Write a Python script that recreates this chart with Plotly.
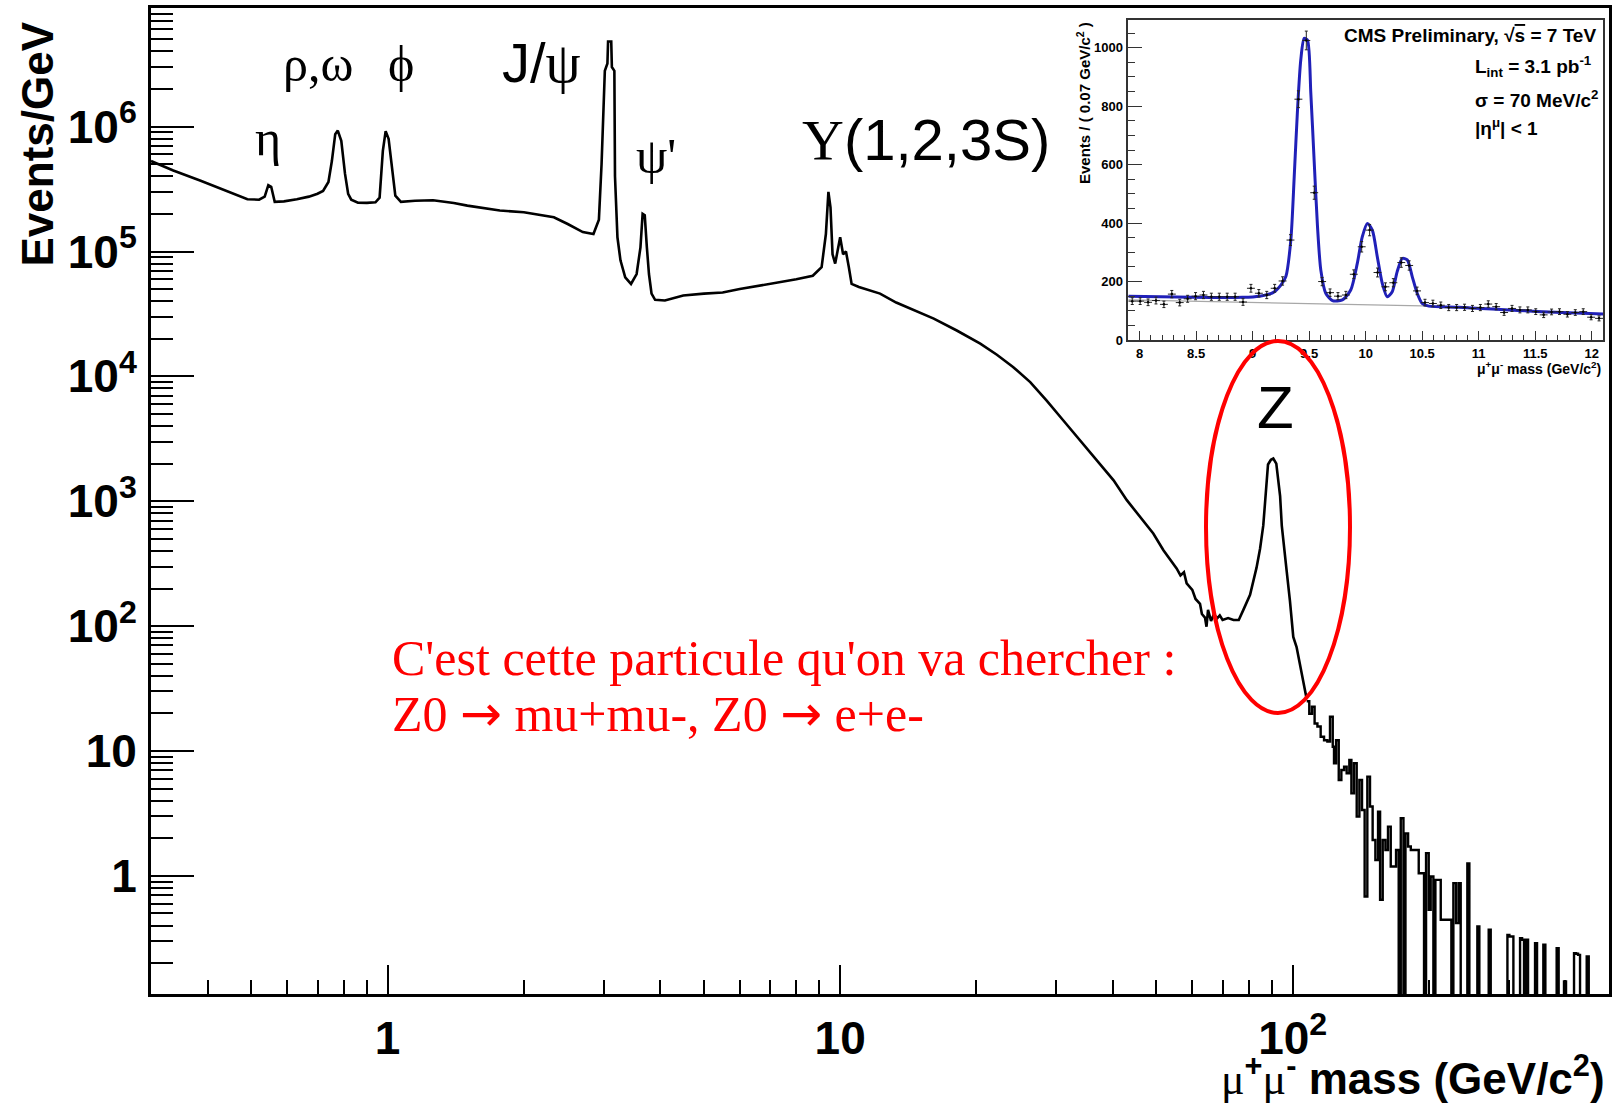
import math
import plotly.graph_objects as go

W, H = 1620, 1106

# ---------------- main dimuon spectrum (Events/GeV) ----------------
smooth_mass = [0.30, 0.336, 0.385, 0.42, 0.456, 0.49, 0.52, 0.535, 0.545, 0.553, 0.563, 0.59, 0.63,
               0.67, 0.70, 0.72, 0.74, 0.753, 0.766, 0.776, 0.79, 0.805, 0.818, 0.831, 0.86, 0.90,
               0.94, 0.96, 0.976, 0.99, 1.005, 1.02, 1.04, 1.07, 1.15, 1.26, 1.40, 1.50, 1.65, 1.77,
               2.0, 2.33, 2.5, 2.7, 2.85, 2.93, 2.97, 2.99, 3.02, 3.06, 3.07, 3.12, 3.13, 3.17, 3.18,
               3.22, 3.27, 3.35, 3.45, 3.55, 3.62, 3.66, 3.70, 3.74, 3.78, 3.83, 3.9, 4.1, 4.5, 5.0,
               5.5, 6.0, 7.0, 8.0, 8.7, 9.1, 9.3, 9.42, 9.52, 9.62, 9.75, 9.9, 10.0, 10.15, 10.3,
               10.45, 10.6, 11.0, 12.25, 13.3, 14.5, 16.1, 18.1, 20.4, 22.2, 24.1, 26.3, 28.6, 31.1,
               33.9, 36.9, 40.2, 43.0, 46.0, 49.2, 51.8, 55.4, 56.5, 57.5, 58.3, 60.0, 61.0, 62.4,
               63.0, 64.0, 64.5, 65.0, 66.0, 67.0, 68.0, 69.0, 70.0, 72.0, 74.0, 76.0, 77.8, 80.5,
               83.2, 84.7, 86.1, 86.8, 87.6, 88.2, 89.5, 90.6, 92.0, 93.8, 94.6, 96.2, 97.0, 98.6,
               100.3, 102.0, 104.7, 105.9, 107.4]
smooth_events = [5.3e5, 4.45e5, 3.7e5, 3.27e5, 2.9e5, 2.62e5, 2.6e5, 2.75e5, 3.4e5, 3.3e5, 2.5e5,
                 2.52e5, 2.62e5, 2.75e5, 2.9e5, 3.05e5, 3.6e5, 5.3e5, 8.7e5, 9.3e5, 7.7e5, 4.2e5,
                 2.9e5, 2.6e5, 2.46e5, 2.45e5, 2.48e5, 2.7e5, 6.4e5, 9.2e5, 8.0e5, 5.0e5, 2.8e5,
                 2.5e5, 2.55e5, 2.57e5, 2.45e5, 2.33e5, 2.22e5, 2.13e5, 2.06e5, 1.88e5, 1.66e5,
                 1.43e5, 1.38e5, 1.8e5, 5.0e5, 1.2e6, 2.8e6, 3.2e6, 4.8e6, 4.8e6, 3.0e6, 2.8e6,
                 4.0e5, 1.3e5, 8.5e4, 6.2e4, 5.5e4, 6.6e4, 1.08e5, 2.0e5, 1.95e5, 1.08e5, 6.6e4,
                 4.6e4, 4.1e4, 4.05e4, 4.45e4, 4.6e4, 4.7e4, 5.0e4, 5.5e4, 6.0e4, 6.4e4, 7.5e4,
                 1.38e5, 3.0e5, 2.26e5, 9.5e4, 8.0e4, 1.08e5, 1.3e5, 9.5e4, 1.0e5, 7.5e4, 5.5e4,
                 5.2e4, 4.6e4, 3.9e4, 3.4e4, 2.9e4, 2.33e4, 1.83e4, 1.49e4, 1.19e4, 9.0e3, 6.4e3,
                 4.45e3, 3.07e3, 2.13e3, 1.47e3, 1.02e3, 748, 552, 405, 290, 255, 270, 220, 195,
                 165, 151, 125, 117, 99, 135, 110, 125, 115, 122, 112, 116, 112, 112, 135, 178,
                 294, 417, 640, 970, 1500, 1970, 2150, 2200, 2000, 1100, 638, 337, 274, 160, 82,
                 68, 42, 33, 26]

# high-mass tail: bin low edges and contents (0 = empty bin)
tail_mass = [107.4, 108.8, 110.3, 111.8, 113.4, 115.3, 117.3, 119.3, 120.9, 122.6, 123.4, 124.7,
             126.4, 128.1, 129.9, 131.6, 133.4, 134.8, 136.6, 138.5, 140.4, 142.3, 144.2, 146.2,
             148.2, 150.2, 152.3, 154.4, 156.0, 158.1, 160.3, 162.4, 164.7, 166.9, 169.2, 171.5,
             173.3, 175.7, 177.5, 179.9, 182.4, 184.8, 187.3, 189.9, 192.5, 195.1, 197.1, 199.8,
             201.8, 204.6, 206.7, 209.5, 212.4, 215.3, 218.2, 221.2, 224.2, 226.5, 229.6, 232.7,
             235.1, 243.2, 245.7, 255.9, 258.5, 271.1, 273.9, 298.2, 301.2, 304.3, 307.4, 318.0,
             321.3, 324.5, 327.8, 331.2, 343.2, 346.7, 358.0, 361.7, 383.1, 387.0, 397.7, 401.8,
             418.5, 422.8, 427.2, 431.5, 446.4, 451.0, 500.0]
tail_events = [25, 19.9, 22.6, 16.6, 15.7, 13.0, 12.2, 11.9, 18.8, 10.8, 7.97, 12.2,
               5.86, 7.05, 7.49, 6.63, 8.47, 4.58, 7.97, 2.98, 5.86, 3.37, 0.683, 6.23,
               3.59, 1.94, 1.34, 3.27, 0.643, 1.94, 1.61, 2.48, 1.19, 1.19, 1.61, 0,
               2.89, 0, 2.19, 1.72, 1.61, 1.61, 1.61, 1.05, 1.05, 0, 1.52, 0.535,
               0.988, 0, 0.929, 0.929, 0.445, 0.445, 0.445, 0.445, 0, 0.874, 0.418, 0.874,
               0, 1.26, 0, 0.393, 0, 0.370, 0, 0.337, 0.327, 0.327, 0, 0.317,
               0.308, 0, 0.308, 0, 0.289, 0, 0.281, 0, 0.264, 0, 0.143, 0,
               0.240, 0.238, 0.233, 0, 0.226, 0, 0]

# ---------------- inset: Upsilon region ----------------
inset_mass = [7.935, 8.005, 8.075, 8.145, 8.215, 8.285, 8.355, 8.425, 8.495, 8.565, 8.635, 8.705,
              8.775, 8.845, 8.915, 8.985, 9.055, 9.125, 9.195, 9.265, 9.335, 9.405, 9.475, 9.545,
              9.615, 9.685, 9.755, 9.825, 9.895, 9.965, 10.035, 10.105, 10.175, 10.245, 10.315,
              10.385, 10.455, 10.525, 10.595, 10.665, 10.735, 10.805, 10.875, 10.945, 11.015,
              11.085, 11.155, 11.225, 11.295, 11.365, 11.435, 11.505, 11.575, 11.645, 11.715,
              11.785, 11.855, 11.925, 11.995, 12.065]
inset_events = [133, 133, 129, 135, 122, 157, 128, 141, 150, 154, 148, 148, 148, 148, 130, 177,
                160, 154, 177, 202, 342, 824, 1025, 504, 200, 162, 150, 154, 225, 319, 376, 231,
                182, 196, 265, 255, 168, 128, 125, 119, 111, 111, 112, 108, 111, 123, 114, 94,
                108, 103, 103, 97, 86, 96, 97, 88, 94, 97, 78, 74]
fit_mass = [7.9, 8.47, 8.91, 9.06, 9.18, 9.25, 9.294, 9.338, 9.368, 9.397, 9.426, 9.456, 9.485,
            9.515, 9.544, 9.574, 9.603, 9.647, 9.706, 9.794, 9.868, 9.926, 9.97, 10.015, 10.059,
            10.103, 10.147, 10.191, 10.235, 10.279, 10.324, 10.368, 10.412, 10.456, 10.5, 10.559,
            10.824, 11.118, 11.559, 12.1]
fit_events = [150, 146, 146, 150, 162, 188, 217, 342, 559, 787, 958, 1032, 1026, 844, 616, 388,
              240, 160, 135, 137, 171, 262, 353, 399, 376, 285, 194, 148, 165, 234, 279, 274,
              217, 160, 125, 116, 112, 106, 97, 89]
bkg_mass = [7.9, 9.647, 10.5, 12.1]
bkg_events = [137, 125, 117, 89]

# tick labels
main_x_ticks = [1, 10, 100]
main_x_labels = ["1", "10", "10<sup>2</sup>"]
main_y_ticks = [1, 10, 100, 1e3, 1e4, 1e5, 1e6]
main_y_labels = ["1", "10", "10<sup>2</sup>", "10<sup>3</sup>", "10<sup>4</sup>",
                 "10<sup>5</sup>", "10<sup>6</sup>"]
x_minor = [k * 10 ** e for e in (-1, 0, 1, 2) for k in range(2, 10) if 0.3 < k * 10 ** e < 500]
y_minor = [k * 10 ** e for e in range(-1, 7) for k in range(2, 10) if k * 10 ** e < 8.5e6]


def px(x):
    return x / W


def py(y):
    return 1 - y / H


EMPTY = 1e-3  # empty bins drawn down to below the axis floor

fig = go.Figure()
fig.add_trace(go.Scatter(x=smooth_mass, y=smooth_events, mode="lines",
                         line=dict(color="black", width=2.6), xaxis="x", yaxis="y",
                         showlegend=False, hoverinfo="skip"))
fig.add_trace(go.Scatter(x=tail_mass, y=[v if v > 0 else EMPTY for v in tail_events],
                         mode="lines", line=dict(color="black", width=2.4, shape="hv"),
                         xaxis="x", yaxis="y", showlegend=False, hoverinfo="skip"))

fig.add_trace(go.Scatter(x=bkg_mass, y=bkg_events, mode="lines",
                         line=dict(color="#a8a8a8", width=1.2), xaxis="x2", yaxis="y2",
                         showlegend=False, hoverinfo="skip"))
fig.add_trace(go.Scatter(x=fit_mass, y=fit_events, mode="lines",
                         line=dict(color="#2020b8", width=3, shape="spline", smoothing=0.7),
                         xaxis="x2", yaxis="y2", showlegend=False, hoverinfo="skip"))
fig.add_trace(go.Scatter(x=inset_mass, y=inset_events, mode="markers",
                         marker=dict(color="black", size=2.5),
                         error_x=dict(type="constant", value=0.035, color="#222", thickness=1, width=0),
                         error_y=dict(type="sqrt", color="#222", thickness=1, width=1.5),
                         xaxis="x2", yaxis="y2", showlegend=False, hoverinfo="skip"))

main_font = dict(family="Liberation Sans", size=46, color="black", weight="bold")
inset_font = dict(family="Liberation Sans", size=13, color="black", weight="bold")

fig.update_layout(
    width=W, height=H, margin=dict(l=0, r=0, t=0, b=0),
    paper_bgcolor="white", plot_bgcolor="white",
    xaxis=dict(type="log", range=[math.log10(0.3), math.log10(500)],
               domain=[px(151), px(1609)], anchor="y",
               showline=True, linecolor="black", linewidth=3, mirror=True,
               ticks="inside", ticklen=29, tickwidth=2, tickcolor="black",
               tickmode="array", tickvals=main_x_ticks, ticktext=main_x_labels,
               tickfont=main_font, ticklabelstandoff=2,
               minor=dict(tickmode="array", tickvals=x_minor, ticks="inside",
                          ticklen=14, tickwidth=2, tickcolor="black"),
               showgrid=False, zeroline=False, automargin=False),
    yaxis=dict(type="log", range=[-0.946, 6.95],
               domain=[py(994), py(8)], anchor="x",
               showline=True, linecolor="black", linewidth=3, mirror=True,
               ticks="inside", ticklen=43, tickwidth=2, tickcolor="black",
               tickmode="array", tickvals=main_y_ticks, ticktext=main_y_labels,
               tickfont=main_font, ticklabelstandoff=2,
               minor=dict(tickmode="array", tickvals=y_minor, ticks="inside",
                          ticklen=22, tickwidth=2, tickcolor="black"),
               showgrid=False, zeroline=False, automargin=False),
    xaxis2=dict(range=[7.9, 12.1], domain=[px(1128.3), px(1603)], anchor="y2",
                showline=True, linecolor="#333", linewidth=1.5, mirror=True,
                ticks="inside", ticklen=9, tickwidth=1, tickcolor="#333",
                tick0=8, dtick=0.5, tickfont=inset_font, ticklabelstandoff=1,
                minor=dict(tick0=8, dtick=0.1, ticks="inside", ticklen=5, tickwidth=1,
                           tickcolor="#333"),
                showgrid=False, zeroline=False, automargin=False),
    yaxis2=dict(range=[0, 1095], domain=[py(340), py(20)], anchor="x2",
                showline=True, linecolor="#333", linewidth=1.5, mirror=True,
                ticks="inside", ticklen=14, tickwidth=1, tickcolor="#333",
                tick0=0, dtick=200, tickfont=inset_font, ticklabelstandoff=1,
                minor=dict(tick0=0, dtick=50, ticks="inside", ticklen=7, tickwidth=1,
                           tickcolor="#333"),
                showgrid=False, zeroline=False, automargin=False),
)

SERIF = "Liberation Serif"
SANS = "Liberation Sans"


def ann(text, x, y, size, family=SANS, color="black", xanchor="center", yanchor="middle",
        angle=0, bold=False):
    fig.add_annotation(text=text, x=px(x), y=py(y), xref="paper", yref="paper",
                       xanchor=xanchor, yanchor=yanchor, showarrow=False, textangle=angle,
                       font=dict(family=family, size=size, color=color,
                                 weight="bold" if bold else "normal"))


# axis titles
ann("Events/GeV", 37, 20, 44, bold=True, angle=-90, yanchor="top")
ann('<span style="font-family:Liberation Serif;font-weight:normal">μ</span><sup>+</sup>'
    '<span style="font-family:Liberation Serif;font-weight:normal">μ</span><sup>-</sup> mass (GeV/c<sup>2</sup>)',
    1607, 1106, 44, bold=True, xanchor="right", yanchor="bottom")

# resonance labels
ann("η", 268, 138, 50, family=SERIF)
ann("ρ,ω", 318, 64, 50, family=SERIF)
ann("ϕ", 401, 64, 50, family=SERIF)
ann('J/<span style="font-family:Liberation Serif">ψ</span>', 541, 63, 56)
ann("ψ'", 656, 156, 50, family=SERIF)
ann('<span style="font-family:Liberation Serif">Υ</span>(1,2,3S)', 926, 140, 58)
ann("Z", 1275, 407, 60)

# French annotation
ARROW = '<span style="font-family:DejaVu Sans">→</span>'
ann("C'est cette particule qu'on va chercher :", 390, 658, 50, family=SERIF, color="#ff0000",
    xanchor="left")
ann("Z0 " + ARROW + " mu+mu-, Z0 " + ARROW + " e+e-", 390, 714, 50, family=SERIF,
    color="#ff0000", xanchor="left")

# inset texts
ann('CMS Preliminary, √<span style="text-decoration:overline">s</span> = 7 TeV', 1598, 36, 19,
    bold=True, xanchor="right")
ann("L<sub>int</sub> = 3.1 pb<sup>-1</sup>", 1473, 67, 19, bold=True, xanchor="left")
ann("σ = 70 MeV/c<sup>2</sup>", 1473, 99, 19, bold=True, xanchor="left")
ann("|η<sup>μ</sup>| < 1", 1473, 127, 19, bold=True, xanchor="left")
ann("Events / ( 0.07 GeV/c<sup>2</sup> )", 1084, 20, 15, bold=True, angle=-90, yanchor="top")
ann("μ<sup>+</sup>μ<sup>-</sup> mass (GeV/c<sup>2</sup>)", 1603, 368, 14, bold=True,
    xanchor="right")

# red ellipse around the Z peak
fig.add_shape(type="circle", xref="paper", yref="paper",
              x0=px(1206), x1=px(1350), y0=py(713), y1=py(341),
              line=dict(color="#ff0000", width=4))

fig.write_html("out.html", config={"displayModeBar": False},
               post_script="document.body.style.margin='0';document.body.style.overflow='hidden';")
